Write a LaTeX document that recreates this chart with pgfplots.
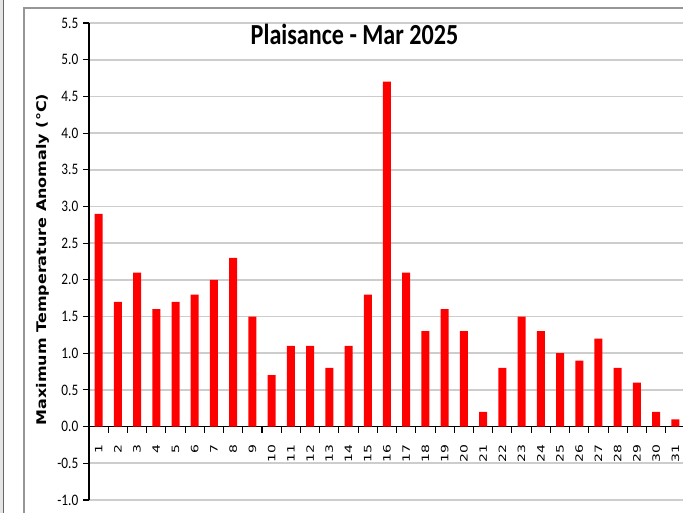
\documentclass[border=0pt]{standalone}
\usepackage{fontspec}
\setmainfont{Carlito}[FakeStretch=0.83]
\newfontfamily\dejavu{DejaVu Sans}
\usepackage{pgfplots}
\usepackage{pgfplotstable}
\pgfplotsset{compat=1.18}
\definecolor{gridc}{RGB}{205,205,205}
\definecolor{framec}{RGB}{150,150,150}
\definecolor{barred}{RGB}{255,0,0}
\newcommand\xl[1]{\scalebox{1}[0.72]{#1}}
\pgfplotstableread{
day val
1 2.9
2 1.7
3 2.1
4 1.6
5 1.7
6 1.8
7 2.0
8 2.3
9 1.5
10 0.7
11 1.1
12 1.1
13 0.8
14 1.1
15 1.8
16 4.7
17 2.1
18 1.3
19 1.6
20 1.3
21 0.2
22 0.8
23 1.5
24 1.3
25 1.0
26 0.9
27 1.2
28 0.8
29 0.6
30 0.2
31 0.1
}\data
\begin{document}
\begin{tikzpicture}
\useasboundingbox (0,0) rectangle (512.25pt,-384.75pt);
\clip (0,0) rectangle (512.25pt,-384.75pt);
\begin{scope}[x=0.75pt,y=-0.75pt]
\fill[gray!20] (0,0) rectangle (2.5,513);
\draw[gray!80!black, line width=0.9pt] (3.2,0) -- (3.2,513);
\draw[framec, line width=0.8pt] (24,513) -- (24,8) -- (690,8);
\end{scope}
\begin{axis}[
  at={(66.75pt,-375pt)}, anchor=south west,
  scale only axis, width=447pt, height=357.75pt,
  xmin=0.5, xmax=31.5, ymin=-1, ymax=5.5,
  axis y line=left, axis x line=middle,
  axis line style={-},
  x axis line style={line width=1.2pt},
  y axis line style={line width=0.8pt},
  xtick={0.5,1.5,...,31.5}, xticklabels={},
  xtick align=outside, ytick align=outside,
  major tick length=4.5pt,
  tick style={black, line width=0.8pt},
  extra x ticks={1,2,...,31},
  extra x tick labels={\xl{1},\xl{2},\xl{3},\xl{4},\xl{5},\xl{6},\xl{7},\xl{8},\xl{9},\xl{10},\xl{11},\xl{12},\xl{13},\xl{14},\xl{15},\xl{16},\xl{17},\xl{18},\xl{19},\xl{20},\xl{21},\xl{22},\xl{23},\xl{24},\xl{25},\xl{26},\xl{27},\xl{28},\xl{29},\xl{30},\xl{31}},
  extra x tick style={major tick length=0pt, grid=none, xticklabel shift=12pt,
     tick label style={rotate=90, anchor=east, font=\dejavu\fontsize{10.5}{12}\selectfont, inner sep=1pt}},
  ytick={-1,-0.5,...,5.5},
  yticklabel style={font=\fontsize{12}{14}\selectfont, /pgf/number format/fixed, /pgf/number format/precision=1, /pgf/number format/fixed zerofill, /pgf/number format/assume math mode=true},
  ymajorgrids, xmajorgrids=false,
  major grid style={gridc, line width=1.3pt},
  every axis title shift=0pt,
  title={Plaisance - Mar 2025},
  title style={at={(axis description cs:0.4455,0.9553)}, anchor=base, font=\bfseries\fontsize{21.8}{24}\selectfont, inner sep=0pt},
  ylabel={\scalebox{1}[0.83]{Maximum Temperature Anomaly (°C)}},
  every axis y label/.style={at={(axis description cs:-0.0772,0.504)}, rotate=90, anchor=center, font=\dejavu\bfseries\fontsize{12}{14}\selectfont},
  clip=false,
]
\addplot[ybar, bar width=6pt, fill=barred, draw=none] table[x=day, y=val] {\data};
\end{axis}
\end{tikzpicture}
\end{document}
